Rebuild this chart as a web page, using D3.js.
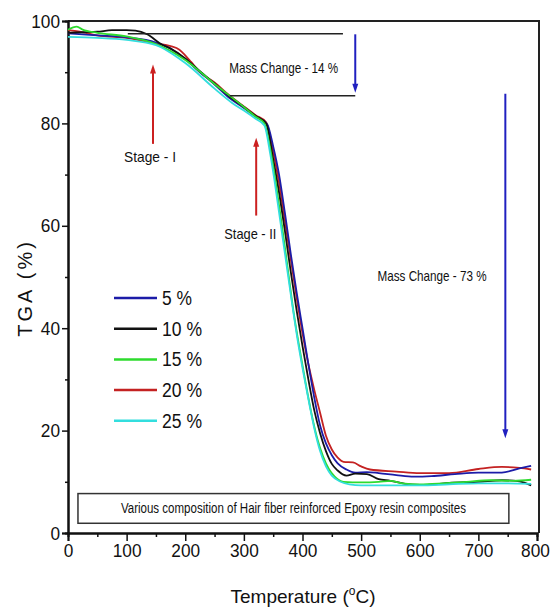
<!DOCTYPE html>
<html><head><meta charset="utf-8">
<script src="https://cdn.jsdelivr.net/npm/d3@7"></script>
<style>
html,body{margin:0;padding:0;background:#fff;}
svg{display:block;}
</style></head>
<body>
<svg id="chart" width="554" height="609"></svg>
<script>
// ---------- DATA ----------
const seriesNames = ["5 %", "10 %", "15 %", "20 %", "25 %"];
const seriesColors = ["#1c1ca8", "#111111", "#2edb2e", "#c42222", "#33dede"];

const temp5  = [0,50,100,150,175,200,225,250,275,300,320,340,350,360,370,380,390,400,410,420,430,440,450,460,475,490,510,530,560,590,620,660,700,740,770,790];
const tga5   = [97.6,97.2,96.8,95.8,94.6,92.5,90.0,87.6,85.0,83.0,81.3,79.8,75.5,70.0,62.5,54.5,47.0,40.0,33.0,26.5,21.0,17.5,15.2,13.6,12.4,11.8,11.9,11.7,11.3,11.0,11.1,11.5,11.8,11.8,12.6,13.1];

const temp10 = [0,25,50,75,100,115,135,160,175,200,225,250,275,300,320,338,350,360,370,380,390,400,410,420,430,440,450,460,475,490,510,530,550,575,600,625,650,700,740,770,790];
const tga10  = [97.7,97.8,97.9,98.2,98.2,98.1,97.4,95.4,94.6,92.7,90.2,87.8,85.3,83.2,81.5,80.0,73.0,66.5,59.0,51.0,43.5,36.5,30.0,24.0,19.5,16.0,13.5,12.2,11.2,11.6,11.5,10.5,10.2,9.6,9.4,9.5,9.8,10.0,10.3,10.1,9.3];

const temp15 = [0,15,25,50,100,150,200,250,300,320,335,345,355,365,375,385,395,405,415,425,435,445,455,470,500,530,550,570,600,640,680,720,760,790];
const tga15  = [98.3,98.9,98.3,97.7,97.0,95.5,92.4,87.7,83.2,81.3,80.0,75.0,68.0,60.0,51.5,43.0,36.0,29.5,23.5,18.5,15.0,12.5,11.0,10.0,9.9,10.0,10.2,9.7,9.5,9.7,10.0,10.3,10.2,10.4];

const temp20 = [0,25,50,100,150,175,190,200,210,225,250,275,300,320,338,350,360,370,380,390,400,410,420,430,440,450,460,470,486,500,515,560,600,650,700,740,770,790];
const tga20  = [98.2,97.8,97.2,96.7,95.6,95.1,94.4,93.3,92.0,90.0,88.0,85.5,83.3,81.6,80.2,74.5,68.5,61.0,53.5,46.0,39.0,33.0,28.0,23.5,19.0,16.3,14.7,13.9,13.8,13.0,12.4,12.0,11.7,11.7,12.5,12.9,12.7,12.4];

const temp25 = [0,50,100,150,200,250,280,300,320,335,345,352,362,372,382,392,402,412,420,430,440,450,465,480,500,550,600,650,700,750,790];
const tga25  = [96.9,96.7,96.3,95.3,91.8,86.8,84.0,82.5,80.9,79.6,74.0,69.0,61.0,53.0,45.0,37.5,31.0,25.0,20.5,16.0,13.0,11.2,10.0,9.5,9.3,9.3,9.3,9.5,9.7,9.7,9.6];

const seriesTemps = [temp5, temp10, temp15, temp20, temp25];
const seriesTGA   = [tga5, tga10, tga15, tga20, tga25];

const xTicks = [0,100,200,300,400,500,600,700,800];
const yTicks = [0,20,40,60,80,100];

// annotation anchors in data units (temperature, TGA)
const arrows = [
  {x:145, y1:76,   y2:91.5, color:"#cc2020"},   // Stage I (up)
  {x:321, y1:62,   y2:77.2, color:"#cc2020"},   // Stage II (up)
  {x:490, y1:97.4, y2:86.0, color:"#2020c0"},   // 14 % (down)
  {x:746, y1:85.8, y2:18.5, color:"#2020c0"}    // 73 % (down)
];
const guideLines = [
  {x1:102, x2:469, y:97.5},
  {x1:276, x2:490, y:85.4}
];
const labels = [
  {text:"Stage - I",          x:140, y:72.5, w:52},
  {text:"Stage - II",         x:311, y:57.5, w:52},
  {text:"Mass Change - 14 %", x:368, y:89.8, w:109},
  {text:"Mass Change - 73 %", x:621, y:49.2, w:109}
];
const boxText = "Various composition of Hair fiber reinforced Epoxy resin composites";

// ---------- CHART ----------
const svg = d3.select("#chart");
const X0 = 68, X1 = 537, Y0 = 533, Y1 = 21;
const x = d3.scaleLinear().domain([0,800]).range([X0, X1]);
const y = d3.scaleLinear().domain([0,100]).range([Y0, Y1]);

const FONT = "'Liberation Sans', Arial, sans-serif";

// frame (top and right)
svg.append("path")
  .attr("d", `M${X0},${Y1}H${x(800)+2}V${Y0}`)
  .attr("fill","none").attr("stroke","#222").attr("stroke-width",2);

// bottom text box
svg.append("rect")
  .attr("x", x(17)).attr("y", y(7.7))
  .attr("width", x(752)-x(17)).attr("height", y(1.9)-y(7.7))
  .attr("fill","none").attr("stroke","#333").attr("stroke-width",1.5);
svg.append("text")
  .attr("x", (x(17)+x(752))/2).attr("y", y(4.8)+5)
  .attr("text-anchor","middle")
  .attr("font-family", FONT).attr("font-size", 14)
  .attr("textLength", 345).attr("lengthAdjust","spacingAndGlyphs")
  .attr("fill","#111").text(boxText);

// axes
const xAxis = d3.axisBottom(x).tickValues(xTicks).tickSize(8).tickPadding(3).tickFormat(d3.format("d"));
const xMinor = d3.axisBottom(x).tickValues(d3.range(50,800,100)).tickSize(4).tickFormat("");
const yAxis = d3.axisLeft(y).tickValues(yTicks).tickSize(6).tickPadding(2).tickFormat(d3.format("d"));
const yMinor = d3.axisLeft(y).tickValues(d3.range(10,100,20)).tickSize(3).tickFormat("");

function styleAxis(g){
  g.select(".domain").attr("stroke","#111").attr("stroke-width",2);
  g.selectAll(".tick line").attr("stroke","#111").attr("stroke-width",1.5);
  g.selectAll(".tick text").attr("font-family", FONT).attr("font-size",19).attr("fill","#111")
    .each(function(d){
      const s = d3.select(this).text();
      if (s) d3.select(this).attr("textLength", s.length*9.6).attr("lengthAdjust","spacingAndGlyphs");
      if (s === "800") d3.select(this).attr("dx", -2);
    });
}
svg.append("g").attr("transform",`translate(0,${Y0})`).call(xAxis).call(styleAxis);
svg.append("g").attr("transform",`translate(0,${Y0})`).call(xMinor).call(styleAxis);
svg.append("g").attr("transform",`translate(${X0},0)`).call(yAxis).call(styleAxis);
svg.append("g").attr("transform",`translate(${X0},0)`).call(yMinor).call(styleAxis);

// axis titles
const xt = svg.append("text").attr("x", 303).attr("y", 603).attr("text-anchor","middle")
  .attr("font-family", FONT).attr("font-size",19).attr("fill","#111");
xt.append("tspan").text("Temperature (");
xt.append("tspan").attr("font-size",12).attr("dy",-8).text("o");
xt.append("tspan").attr("dy",8).text("C)");

svg.append("text").attr("transform","translate(32,288) rotate(-90)")
  .attr("text-anchor","middle").attr("font-family", FONT).attr("font-size",20)
  .attr("letter-spacing",3).attr("fill","#111").text("TGA (%)");

// curves
const line = d3.line().x(d=>x(d[0])).y(d=>y(d[1])).curve(d3.curveMonotoneX);
const order = [3,0,1,2,4];
order.forEach(i=>{
  const pts = seriesTemps[i].map((t,k)=>[t, seriesTGA[i][k]]);
  svg.append("path").datum(pts).attr("d", line)
    .attr("fill","none").attr("stroke", seriesColors[i]).attr("stroke-width",1.8)
    .attr("stroke-linejoin","round");
});

// guide lines
guideLines.forEach(g=>{
  svg.append("line").attr("x1",x(g.x1)).attr("x2",x(g.x2)).attr("y1",y(g.y)).attr("y2",y(g.y))
    .attr("stroke","#222").attr("stroke-width",1.5);
});

// arrows
arrows.forEach(a=>{
  const ya = y(a.y1), yb = y(a.y2), xa = x(a.x);
  const dir = yb < ya ? -1 : 1;
  svg.append("line").attr("x1",xa).attr("x2",xa).attr("y1",ya).attr("y2",yb - dir*6)
    .attr("stroke",a.color).attr("stroke-width",2);
  svg.append("path")
    .attr("d",`M${xa},${yb}L${xa-3},${yb-dir*9}L${xa+3},${yb-dir*9}Z`)
    .attr("fill",a.color);
});

// labels
labels.forEach(l=>{
  svg.append("text").attr("x",x(l.x)).attr("y",y(l.y)).attr("text-anchor","middle")
    .attr("font-family", FONT).attr("font-size",15)
    .attr("textLength", l.w).attr("lengthAdjust","spacingAndGlyphs")
    .attr("fill","#111").text(l.text);
});

// legend
const lg = svg.append("g");
seriesNames.forEach((n,i)=>{
  const yy = 298 + i*30.7;
  lg.append("line").attr("x1",114).attr("x2",157).attr("y1",yy).attr("y2",yy)
    .attr("stroke",seriesColors[i]).attr("stroke-width",2.5);
  lg.append("text").attr("x",162).attr("y",yy+7).attr("font-family",FONT).attr("font-size",20)
    .attr("textLength", n.length*10).attr("lengthAdjust","spacingAndGlyphs")
    .attr("fill","#111").text(n);
});
</script>
</body></html>
